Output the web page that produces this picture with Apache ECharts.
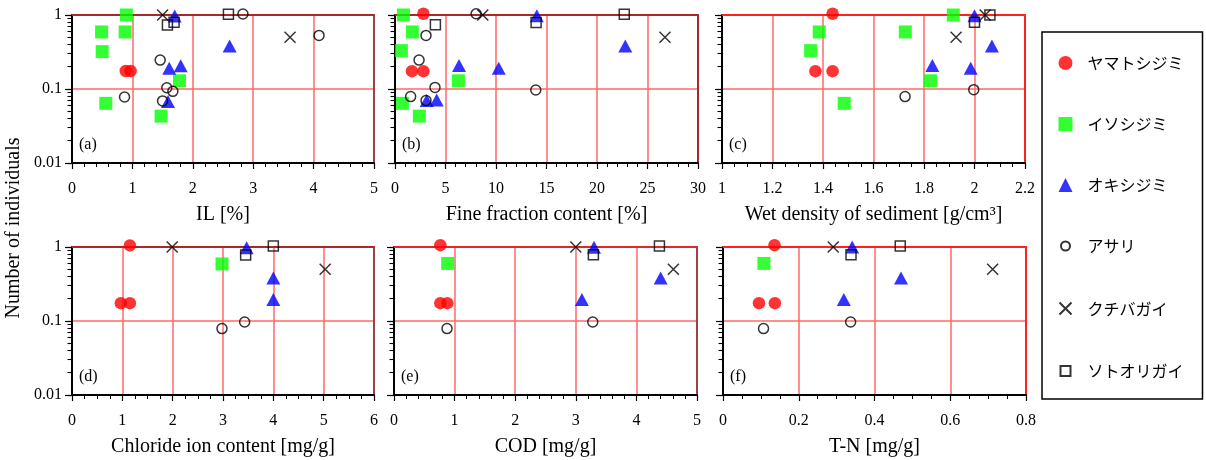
<!DOCTYPE html>
<html>
<head>
<meta charset="utf-8">
<script src="https://cdn.jsdelivr.net/npm/echarts@6/dist/echarts.min.js"></script>
<style>
html,body{margin:0;padding:0;background:#fff;}
#c{width:1206px;height:460px;}
</style>
</head>
<body>
<div id="c"></div>
<script>
// ---- species (legend order) ----
const speciesNames = ['ヤマトシジミ','イソシジミ','オキシジミ','アサリ','クチバガイ','ソトオリガイ'];

// ---- y axis (log) tick labels ----
const yTickLabels = [0.01, 0.1, 1];
const yMinorTicks = [0.02,0.03,0.04,0.05,0.06,0.07,0.08,0.09,0.2,0.3,0.4,0.5,0.6,0.7,0.8,0.9];

// ---- x axis names ----
const xNames = ['IL [%]','Fine fraction content [%]','Wet density of sediment [g/cm³]','Chloride ion content [mg/g]','COD [mg/g]','T-N [mg/g]'];
const panelTags = ['(a)','(b)','(c)','(d)','(e)','(f)'];

// ---- (a) IL [%] ----
const a_yamato = [[0.89,0.175],[0.97,0.175]];
const a_iso    = [[0.49,0.59],[0.50,0.32],[0.90,1.0],[0.88,0.59],[0.56,0.064],[1.475,0.043],[1.78,0.129]];
const a_oki    = [[1.70,0.97],[1.61,0.19],[1.80,0.206],[2.61,0.38],[1.59,0.068]];
const a_asari  = [[2.83,1.03],[4.09,0.53],[1.46,0.246],[1.57,0.104],[1.67,0.093],[0.87,0.078],[1.50,0.069]];
const a_kuchi  = [[1.50,1.0],[3.61,0.50]];
const a_soto   = [[2.59,1.02],[1.58,0.73],[1.69,0.795]];

// ---- (b) Fine fraction content [%] ----
const b_yamato = [[2.81,1.04],[1.68,0.174],[2.81,0.174]];
const b_iso    = [[0.83,1.0],[1.72,0.59],[0.63,0.33],[6.28,0.129],[0.73,0.064],[2.41,0.043]];
const b_oki    = [[14.04,0.98],[22.8,0.38],[6.34,0.208],[10.27,0.19],[3.14,0.07],[4.13,0.071]];
const b_asari  = [[8.03,1.04],[3.07,0.53],[2.38,0.246],[3.96,0.105],[13.94,0.097],[1.55,0.079],[3.07,0.07]];
const b_kuchi  = [[8.69,1.0],[26.73,0.5]];
const b_soto   = [[22.7,1.02],[13.97,0.79],[4.0,0.74]];

// ---- (c) Wet density [g/cm3] ----
const c_yamato = [[1.438,1.04],[1.37,0.174],[1.438,0.174]];
const c_iso    = [[1.916,1.0],[1.385,0.59],[1.726,0.59],[1.351,0.33],[1.826,0.129],[1.484,0.064]];
const c_oki    = [[2.0,0.98],[2.069,0.38],[1.833,0.208],[1.985,0.19]];
const c_asari  = [[1.725,0.079],[1.997,0.098]];
const c_kuchi  = [[2.042,1.0],[1.927,0.5]];
const c_soto   = [[2.061,1.0],[2.0,0.8]];

// ---- (d) Chloride ion content [mg/g] ----
const d_yamato = [[1.15,1.05],[0.97,0.174],[1.15,0.174]];
const d_iso    = [[2.98,0.59]];
const d_oki    = [[3.47,0.98],[4.0,0.38],[4.0,0.195]];
const d_asari  = [[2.98,0.079],[3.43,0.097]];
const d_kuchi  = [[1.99,1.0],[5.03,0.5]];
const d_soto   = [[4.0,1.03],[3.45,0.78]];

// ---- (e) COD [mg/g] ----
const e_yamato = [[0.765,1.06],[0.765,0.174],[0.88,0.174]];
const e_iso    = [[0.886,0.6]];
const e_oki    = [[3.30,0.99],[4.40,0.38],[3.10,0.195]];
const e_asari  = [[0.875,0.079],[3.28,0.097]];
const e_kuchi  = [[3.0,1.0],[4.61,0.5]];
const e_soto   = [[4.38,1.03],[3.29,0.786]];

// ---- (f) T-N [mg/g] ----
const f_yamato = [[0.136,1.06],[0.095,0.174],[0.137,0.174]];
const f_iso    = [[0.108,0.6]];
const f_oki    = [[0.341,1.0],[0.470,0.38],[0.319,0.195]];
const f_asari  = [[0.107,0.079],[0.337,0.097]];
const f_kuchi  = [[0.291,1.0],[0.712,0.5]];
const f_soto   = [[0.468,1.03],[0.338,0.786]];

// ---- x axis ranges ----
const xMin = [0, 0, 1, 0, 0, 0];
const xMax = [5, 30, 2.2, 6, 5, 0.8];
const xInterval = [1, 5, 0.2, 1, 1, 0.2];
const xMinorSplit = [5, 5, 4, 4, 5, 4];

const panelData = [
  [a_yamato,a_iso,a_oki,a_asari,a_kuchi,a_soto],
  [b_yamato,b_iso,b_oki,b_asari,b_kuchi,b_soto],
  [c_yamato,c_iso,c_oki,c_asari,c_kuchi,c_soto],
  [d_yamato,d_iso,d_oki,d_asari,d_kuchi,d_soto],
  [e_yamato,e_iso,e_oki,e_asari,e_kuchi,e_soto],
  [f_yamato,f_iso,f_oki,f_asari,f_kuchi,f_soto]
];

// ---- layout / style ----
const grids = [
  {left:72,  top:15,  width:302, height:148},
  {left:395, top:15,  width:303, height:148},
  {left:722, top:15,  width:303, height:148},
  {left:72,  top:247, width:302, height:148},
  {left:394, top:247, width:303, height:148},
  {left:723, top:247, width:303, height:148}
];
const DARK = '#a62a2a', RED = '#ff2020', BROWN = '#a04040';
const topBorder = [DARK, DARK, RED, DARK, '#e02828', RED];
const rightBorder = [BROWN, DARK, RED, BROWN, BROWN, RED];
const GRIDLINE = '#ff6a6a';
const SERIF = 'Liberation Serif';

const symbolStyles = [
  {symbol:'circle', symbolSize:12.5, itemStyle:{color:'#ff0000', borderWidth:0}},
  {symbol:'rect', symbolSize:13, itemStyle:{color:'#00ff00', borderWidth:0}},
  {symbol:'triangle', symbolSize:[14,13], itemStyle:{color:'#0000ff', borderWidth:0}},
  {symbol:'circle', symbolSize:10, itemStyle:{color:'rgba(0,0,0,0)', borderColor:'#000', borderWidth:1.5}},
  {symbol:'path://M0,0L10,10M0,10L10,0', symbolSize:11, itemStyle:{color:'none', borderColor:'#000', borderWidth:1.5}},
  {symbol:'rect', symbolSize:10, itemStyle:{color:'rgba(0,0,0,0)', borderColor:'#000', borderWidth:1.5}}
];
const legendIcons = [
  'circle',
  'rect',
  'triangle',
  'path://M0,0M14,14M11.5,7A4.5,4.5,0,1,1,2.5,7A4.5,4.5,0,1,1,11.5,7Z',
  'path://M0,0M14,14M1,1L13,13M1,13L13,1',
  'path://M0,0M14,14M2,2L12,2L12,12L2,12Z'
];

const xAxes = [], yAxes = [], series = [], graphics = [];
grids.forEach((g, p) => {
  xAxes.push({
    type:'value', gridIndex:p, position:'bottom', min:xMin[p], max:xMax[p], interval:xInterval[p],
    name:xNames[p], nameLocation:'middle', nameGap:42,
    nameTextStyle:{fontFamily:SERIF, fontSize:20, color:'#000'},
    axisLine:{show:true, onZero:false, lineStyle:{color:'#000', width:2}},
    axisTick:{show:true, inside:false, length:6, lineStyle:{color:'#000', width:1.2}},
    minorTick:{show:true, splitNumber:xMinorSplit[p], length:4, lineStyle:{color:'#000', width:1}},
    axisLabel:{show:true, margin:18, fontFamily:SERIF, fontSize:16, color:'#000',
      formatter: v => String(+(+v).toFixed(2))},
    splitLine:{show:true, lineStyle:{color:GRIDLINE, width:1.5}}
  });
  xAxes.push({
    type:'value', gridIndex:p, position:'top', min:xMin[p], max:xMax[p],
    axisLine:{show:true, onZero:false, lineStyle:{color:topBorder[p], width:2}},
    axisTick:{show:false}, axisLabel:{show:false}, splitLine:{show:false}
  });
  // main y (log): line, labels and all ticks (decades + 2..9 minors)
  yAxes.push({
    type:'log', logBase:10, gridIndex:p, position:'left', min:0.01, max:1,
    axisLine:{show:true, onZero:false, lineStyle:{color:'#000', width:2}},
    axisTick:{show:true, inside:false, length:4.5, customValues:yTickLabels.concat(yMinorTicks), lineStyle:{color:'#000', width:1.1}},
    axisLabel:{show: p===0 || p===3, customValues:yTickLabels, margin:10, fontFamily:SERIF, fontSize:16, color:'#000',
      formatter: v => String(+(+v).toPrecision(3))},
    splitLine:{show:false}
  });
  // longer decade ticks
  yAxes.push({
    type:'log', logBase:10, gridIndex:p, position:'left', min:0.01, max:1,
    axisLine:{show:true, onZero:false, lineStyle:{color:'#000', width:2}},
    axisTick:{show:true, inside:false, length:7, customValues:yTickLabels, lineStyle:{color:'#000', width:1.2}},
    axisLabel:{show:false}, splitLine:{show:false}
  });
  // right border + decade gridlines
  yAxes.push({
    type:'log', logBase:10, gridIndex:p, position:'right', min:0.01, max:1,
    axisLine:{show:true, onZero:false, lineStyle:{color:rightBorder[p], width:2}},
    axisTick:{show:false, customValues:yTickLabels}, axisLabel:{show:false},
    splitLine:{show:true, lineStyle:{color:GRIDLINE, width:1.5}}
  });

  panelData[p].forEach((arr, s) => {
    series.push(Object.assign({
      type:'scatter', name:speciesNames[s], xAxisIndex:2*p, yAxisIndex:3*p,
      data:arr, clip:false, silent:true, emphasis:{disabled:true}, animation:false
    }, symbolStyles[s]));
  });

  graphics.push({
    type:'text', left:g.left + 7, top:g.top + g.height - 26,
    style:{text:panelTags[p], font:'16px "Liberation Serif"', fill:'#000'}
  });
});

graphics.push({
  type:'text', x:14, y:228, rotation:Math.PI/2,
  style:{text:'Number of individuals', font:'20px "Liberation Serif"', fill:'#000', align:'center', verticalAlign:'middle'}
});

const chart = echarts.init(document.getElementById('c'), null, {renderer:'canvas'});
chart.setOption({
  animation:false,
  backgroundColor:'#fff',
  grid: grids.map(g => Object.assign({containLabel:false}, g)),
  xAxis: xAxes,
  yAxis: yAxes,
  legend: {
    data: speciesNames.map((n, i) => ({name:n, icon:legendIcons[i]})),
    orient:'vertical', left:1042, top:32,
    padding:[23, 19, 20, 14],
    itemGap:45, itemWidth:14, itemHeight:14,
    borderColor:'#000', borderWidth:1.5,
    selectedMode:false,
    textStyle:{fontFamily:'Noto Sans CJK JP', fontSize:16, color:'#000', padding:[0,0,0,10]}
  },
  graphic: graphics,
  series: series
});
</script>
</body>
</html>
